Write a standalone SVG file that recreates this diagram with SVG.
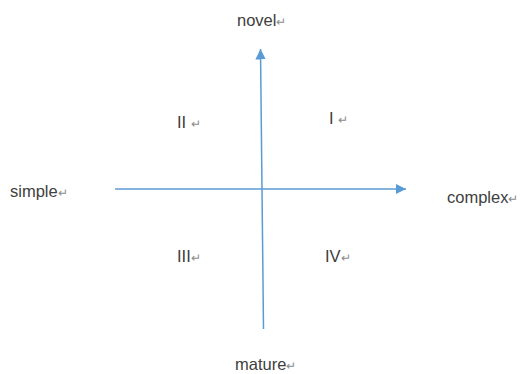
<svg xmlns="http://www.w3.org/2000/svg" width="526" height="374" viewBox="0 0 526 374">
<style>
.t{font-family:"Liberation Sans","Noto Sans",Arial,sans-serif;font-size:16.5px;fill:#404040}
.m{font-size:12px;fill:#8c8c8c}
.ax{stroke:#5b9bd5;stroke-width:1.5;fill:none}
</style>
<defs>
<marker id="ah" viewBox="0 0 10 10" refX="10" refY="5" markerWidth="7" markerHeight="7" orient="auto" markerUnits="strokeWidth">
<path d="M0,0 L10,5 L0,10 z" fill="#5b9bd5"/>
</marker>
</defs>
<rect width="526" height="374" fill="#fff"/>
<g id="connectors">
<line class="ax" x1="115" y1="189" x2="406" y2="189" marker-end="url(#ah)"/>
<line class="ax" x1="263.5" y1="329" x2="260.5" y2="49" marker-end="url(#ah)"/>
</g>
<g id="novel"><text class="t" x="237" y="26">novel<tspan class="m">↵</tspan></text></g>
<g id="simple"><text class="t" x="10" y="197">simple<tspan class="m">↵</tspan></text></g>
<g id="complex"><text class="t" x="447" y="203">complex<tspan class="m">↵</tspan></text></g>
<g id="q2"><text class="t" x="177" y="128">II <tspan class="m">↵</tspan></text></g>
<g id="q1"><text class="t" x="329" y="124">I <tspan class="m">↵</tspan></text></g>
<g id="q3"><text class="t" x="177" y="262">III<tspan class="m">↵</tspan></text></g>
<g id="q4"><text class="t" x="325" y="262">IV<tspan class="m">↵</tspan></text></g>
<g id="mature"><text class="t" x="235" y="370">mature<tspan class="m">↵</tspan></text></g>
</svg>
